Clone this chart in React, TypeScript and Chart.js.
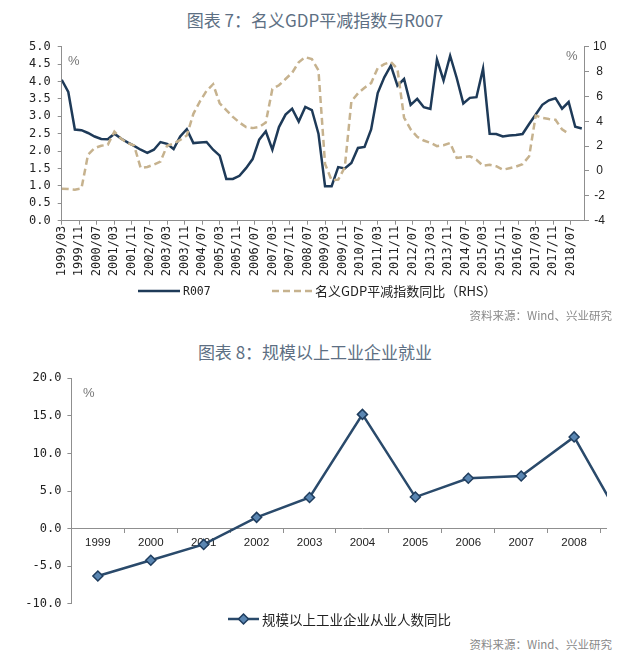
import React, { useEffect, useRef } from "react";
import { Chart, registerables } from "chart.js";

Chart.register(...registerables);

// ---------------- 图表 7 data (quarterly, x = months since 1999/03) ----------------
const monthsPerQuarter = 3;
const monthsPerXTick = 8;
const xAxisMaxMonth = 238;

const xTickLabels = [
  "1999/03", "1999/11", "2000/07", "2001/03", "2001/11", "2002/07", "2003/03", "2003/11",
  "2004/07", "2005/03", "2005/11", "2006/07", "2007/03", "2007/11", "2008/07", "2009/03",
  "2009/11", "2010/07", "2011/03", "2011/11", "2012/07", "2013/03", "2013/11", "2014/07",
  "2015/03", "2015/11", "2016/07", "2017/03", "2017/11", "2018/07",
];

const r007Values = [
  4.05, 3.7, 2.62, 2.6, 2.52, 2.42, 2.35, 2.34, 2.5, 2.36,
  2.25, 2.15, 2.04, 1.95, 2.04, 2.26, 2.21, 2.06, 2.42, 2.63,
  2.23, 2.25, 2.26, 2.04, 1.87, 1.2, 1.2, 1.29, 1.51, 1.77,
  2.33, 2.57, 2.04, 2.69, 3.05, 3.22, 2.85, 3.27, 3.18, 2.5,
  0.99, 0.99, 1.54, 1.5, 1.66, 2.09, 2.12, 2.62, 3.67, 4.12,
  4.46, 3.88, 4.07, 3.33, 3.5, 3.26, 3.21, 4.63, 4.03, 4.74,
  4.1, 3.37, 3.53, 3.55, 4.37, 2.5, 2.49, 2.42, 2.45, 2.46,
  2.49, 2.78, 3.05, 3.33, 3.46, 3.52, 3.22, 3.41, 2.7, 2.65,
];

const gdpDeflatorValues = [
  -1.43, -1.45, -1.5, -1.4, 1.31, 1.84, 2.03, 2.11, 3.16, 2.62,
  2.25, 2.05, 0.24, 0.32, 0.52, 0.75, 2.03, 2.2, 2.5, 2.85,
  4.6, 5.6, 6.45, 6.98, 5.45, 4.9, 4.35, 3.9, 3.53, 3.45,
  3.55, 3.9, 6.6, 6.9, 7.4, 7.9, 8.75, 9.16, 9.0, 8.1,
  0.57, -0.75, -0.7, 0.3, 5.6, 6.25, 6.7, 7.07, 8.28, 8.6,
  8.78, 8.2, 4.3, 3.35, 2.75, 2.45, 2.27, 2.0, 2.07, 2.25,
  1.05, 1.12, 1.18, 0.9, 0.42, 0.5, 0.38, 0.1, 0.22, 0.35,
  0.55, 1.18, 4.45, 4.27, 4.18, 4.12, 3.35, 3.0,
];

// ---------------- 图表 8 data ----------------
const employmentYears = ["1999", "2000", "2001", "2002", "2003", "2004", "2005", "2006", "2007", "2008", "2009"];
const employmentValues = [-6.3, -4.2, -2.1, 1.5, 4.15, 15.2, 4.2, 6.7, 7.0, 12.2, -0.2];

// ---------------- styles ----------------
const NAVY = "#1e3a58";
const TAN = "#c6b28e";
const AXIS = "#8f8f8f";
const TICK = "#222";
const TITLE = "#5d6f83";
const CJK = "'Noto Sans CJK SC', sans-serif";
const MONO = "'DejaVu Sans Mono', monospace";
const SANS = "'Liberation Sans', Arial, sans-serif";

function GdpChart() {
  const ref = useRef<HTMLCanvasElement>(null);
  useEffect(() => {
    const chart = new Chart(ref.current as HTMLCanvasElement, {
      type: "line",
      data: {
        datasets: [
          {
            label: "R007",
            data: r007Values.map((v, i) => ({ x: i * monthsPerQuarter, y: v })),
            yAxisID: "y",
            borderColor: NAVY,
            borderWidth: 2.5,
            pointRadius: 0,
            tension: 0,
            order: 1,
          },
          {
            label: "名义GDP平减指数同比（RHS）",
            data: gdpDeflatorValues.map((v, i) => ({ x: i * monthsPerQuarter, y: v })),
            yAxisID: "y1",
            borderColor: TAN,
            borderDash: [7, 4],
            borderWidth: 2.5,
            pointRadius: 0,
            tension: 0,
            order: 0,
          },
        ],
      },
      options: {
        responsive: false,
        animation: false,
        events: [],
        layout: { padding: { left: 0, right: 0, top: 16.7, bottom: 0 } },
        plugins: { legend: { display: false }, tooltip: { enabled: false } },
        scales: {
          x: {
            type: "linear",
            min: 0,
            max: xAxisMaxMonth,
            afterBuildTicks: (s: any) => {
              s.ticks = xTickLabels.map((_, i) => ({ value: i * monthsPerXTick }));
            },
            afterFit: (s: any) => {
              s.height = 64.3;
            },
            ticks: {
              autoSkip: false,
              minRotation: 90,
              maxRotation: 90,
              padding: 1,
              color: TICK,
              font: { family: MONO, size: 12 },
              callback: (_v: any, i: number) => xTickLabels[i],
            },
            grid: { drawOnChartArea: false, tickLength: 4, color: AXIS },
            border: { color: AXIS },
          },
          y: {
            position: "left",
            min: 0,
            max: 5,
            afterFit: (s: any) => {
              s.width = 61.7;
            },
            ticks: {
              stepSize: 0.5,
              padding: 7,
              color: TICK,
              font: { family: MONO, size: 12 },
              callback: (v: any) => Number(v).toFixed(1),
            },
            grid: { drawOnChartArea: false, tickLength: 4, color: AXIS },
            border: { color: AXIS },
          },
          y1: {
            position: "right",
            min: -4,
            max: 10,
            afterFit: (s: any) => {
              s.width = 56;
            },
            ticks: {
              stepSize: 2,
              padding: 4,
              crossAlign: "center",
              color: TICK,
              font: { family: SANS, size: 12 },
            },
            grid: { drawOnChartArea: false, tickLength: 5, color: AXIS },
            border: { color: AXIS },
          },
        },
      },
    } as any);
    return () => chart.destroy();
  }, []);
  return (
    <canvas
      ref={ref}
      width={640}
      height={255}
      style={{ position: "absolute", left: 0, top: 30, display: "block" }}
    />
  );
}

function EmploymentChart() {
  const ref = useRef<HTMLCanvasElement>(null);
  useEffect(() => {
    const chart = new Chart(ref.current as HTMLCanvasElement, {
      type: "line",
      data: {
        labels: employmentYears,
        datasets: [
          {
            label: "规模以上工业企业从业人数同比",
            data: employmentValues,
            borderColor: "#2a4a6b",
            borderWidth: 2.5,
            tension: 0,
            pointStyle: "rectRot",
            pointRadius: 5,
            pointBackgroundColor: "#5a86b2",
            pointBorderColor: "#1f3d5e",
            pointBorderWidth: 1.5,
          },
        ],
      },
      options: {
        responsive: false,
        animation: false,
        events: [],
        layout: { padding: { left: 0, right: 2.3, top: 18.3, bottom: 4.9 } },
        plugins: { legend: { display: false }, tooltip: { enabled: false } },
        scales: {
          x: {
            type: "category",
            offset: true,
            position: { y: 0 },
            ticks: {
              autoSkip: false,
              maxRotation: 0,
              padding: 3,
              color: TICK,
              font: { family: SANS, size: 11.5 },
            },
            grid: { offset: true, drawOnChartArea: false, tickLength: 4, color: AXIS },
            border: { color: AXIS },
          },
          y: {
            min: -10,
            max: 20,
            afterFit: (s: any) => {
              s.width = 71.4;
            },
            ticks: {
              stepSize: 5,
              padding: 6,
              color: TICK,
              font: { family: MONO, size: 12 },
              callback: (v: any) => Number(v).toFixed(1),
            },
            grid: { drawOnChartArea: false, tickLength: 4, color: AXIS },
            border: { color: AXIS },
          },
        },
      },
    } as any);
    return () => chart.destroy();
  }, []);
  return (
    <div style={{ position: "absolute", left: 0, top: 360, width: 607, height: 257, overflow: "hidden" }}>
      <canvas ref={ref} width={660} height={257} style={{ display: "block" }} />
    </div>
  );
}

const abs = (o: React.CSSProperties): React.CSSProperties => ({ position: "absolute", whiteSpace: "nowrap", ...o });

export default function App() {
  return (
    <div style={{ position: "absolute", left: 0, top: 0, width: 640, height: 658, background: "#fff", overflow: "hidden" }}>
      <div style={abs({ left: 0, top: 9, width: 630, textAlign: "center", fontFamily: CJK, fontSize: 17, lineHeight: "22px", color: TITLE })}>
        图表 7：名义GDP平减指数与R007
      </div>
      <GdpChart />
      <div style={abs({ left: 68, top: 53, fontFamily: SANS, fontSize: 13, lineHeight: "16px", color: "#777" })}>%</div>
      <div style={abs({ left: 566, top: 48, fontFamily: SANS, fontSize: 13, lineHeight: "16px", color: "#777" })}>%</div>

      <svg style={abs({ left: 138, top: 286 })} width={42} height={10}>
        <line x1={0} y1={5} x2={42} y2={5} stroke={NAVY} strokeWidth={2.5} />
      </svg>
      <div style={abs({ left: 183, top: 283, fontFamily: MONO, fontSize: 11.5, lineHeight: "16px", color: "#222" })}>R007</div>
      <svg style={abs({ left: 272, top: 286 })} width={40} height={10}>
        <line x1={0} y1={5} x2={40} y2={5} stroke={TAN} strokeWidth={2.5} strokeDasharray="7 4" />
      </svg>
      <div style={abs({ left: 315, top: 282, fontFamily: CJK, fontSize: 13, lineHeight: "18px", color: "#222" })}>
        名义GDP平减指数同比（RHS）
      </div>
      <div style={abs({ left: 0, top: 307, width: 612, textAlign: "right", fontFamily: CJK, fontSize: 11.5, lineHeight: "16px", color: "#888" })}>
        资料来源：Wind、兴业研究
      </div>

      <div style={abs({ left: 0, top: 341, width: 630, textAlign: "center", fontFamily: CJK, fontSize: 17, lineHeight: "22px", color: TITLE })}>
        图表 8：规模以上工业企业就业
      </div>
      <EmploymentChart />
      <div style={abs({ left: 83, top: 385, fontFamily: SANS, fontSize: 13, lineHeight: "16px", color: "#777" })}>%</div>

      <svg style={abs({ left: 228, top: 612 })} width={31} height={14}>
        <line x1={0} y1={7} x2={31} y2={7} stroke="#2a4a6b" strokeWidth={2.5} />
        <polygon points="15.5,2 20.5,7 15.5,12 10.5,7" fill="#5a86b2" stroke="#1f3d5e" strokeWidth={1.5} />
      </svg>
      <div style={abs({ left: 262, top: 610, fontFamily: CJK, fontSize: 13.5, lineHeight: "18px", color: "#222" })}>
        规模以上工业企业从业人数同比
      </div>
      <div style={abs({ left: 0, top: 636, width: 612, textAlign: "right", fontFamily: CJK, fontSize: 11.5, lineHeight: "16px", color: "#888" })}>
        资料来源：Wind、兴业研究
      </div>
    </div>
  );
}
